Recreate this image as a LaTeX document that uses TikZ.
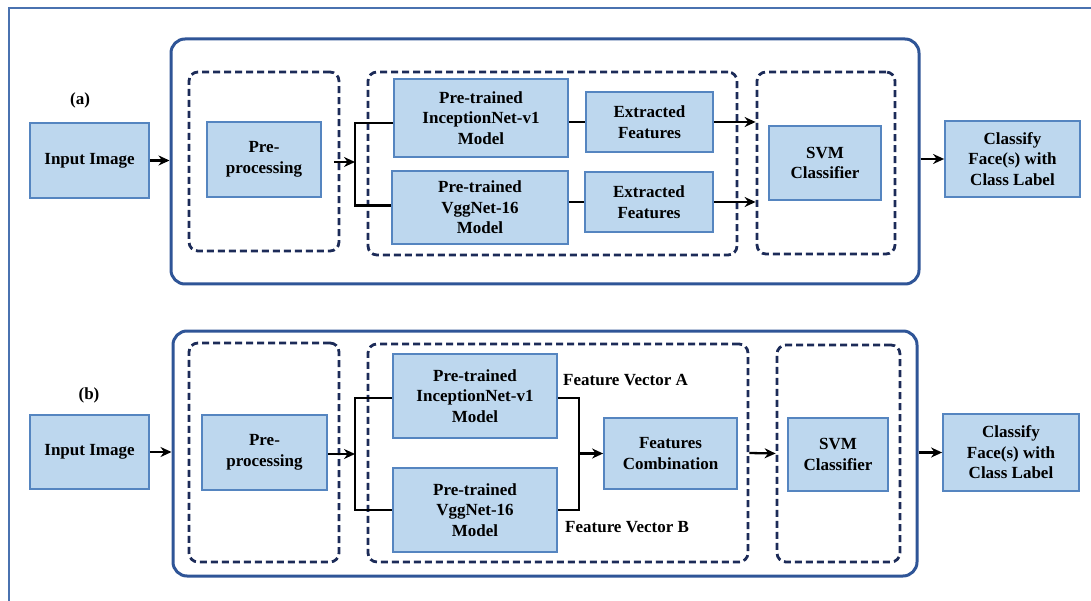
\documentclass[tikz,border=0pt]{standalone}
\usepackage{fontspec}
\setmainfont{Liberation Serif}
\usetikzlibrary{arrows.meta}

\definecolor{boxfill}{HTML}{BDD7EE}
\definecolor{boxline}{HTML}{5585C0}
\definecolor{panelline}{HTML}{2F5597}
\definecolor{groupline}{HTML}{1C2B58}
\definecolor{frameline}{HTML}{4A72B0}

\begin{document}
\begin{tikzpicture}[x=1pt,y=-1pt,>={Stealth[length=11pt,width=10pt]},
  every node/.style={font=\bfseries\fontsize{17}{20.5}\selectfont,inner sep=0pt},
  boxsize/.style 2 args={minimum width=#1pt,minimum height=#2pt},
  block/.style={draw=boxline,fill=boxfill,line width=1.8pt,align=center},
  group/.style={draw=groupline,line width=2.8pt,dash pattern=on 7pt off 4pt,rounded corners=9pt},
  panel/.style={draw=panelline,line width=3pt,rounded corners=14pt},
  link/.style={line width=2.3pt}]
        \useasboundingbox (0,0) rectangle (1091,601);
        \draw[frameline,line width=2.6pt] (1100,8) -| (9,610);

        % (a) separate features
        \node[panel,boxsize={748}{245}]  (panelA) at (545,161.5) {};
        \node[group,boxsize={150}{179}]  (preGA)  at (264,161.5) {};
        \node[group,boxsize={369}{183}]  (midGA)  at (552.5,163.5) {};
        \node[group,boxsize={138}{182}]  (svmGA)  at (826,163) {};

        \node                            (labA)   at (80,100)     {(a)};
        \node[block,boxsize={119}{75}]   (inA)    at (89.5,160.5) {Input Image};
        \node[block,boxsize={114}{75}]   (preA)   at (264,159.5)  {Pre-\\processing};
        \node[block,boxsize={174}{78}]   (incA)   at (481,118)    {Pre-trained\\InceptionNet-v1\\Model};
        \node[block,boxsize={176}{73}]   (vggA)   at (480,207.5)  {Pre-trained\\VggNet-16\\Model};
        \node[block,boxsize={127}{60}]   (ext1)   at (649.5,122)  {Extracted\\Features};
        \node[block,boxsize={128}{60}]   (ext2)   at (649,202)    {Extracted\\Features};
        \node[block,boxsize={112}{74}]   (svmA)   at (825,163)    {SVM\\Classifier};
        \node[block,boxsize={135}{76}]   (clsA)   at (1012.5,159) {Classify\\Face(s) with\\Class Label};

        \coordinate (splitA) at (355,162);
        \draw[link,->] (inA.east) -- (inA.east -| panelA.west);
        \draw[link,->,shorten <=12pt] (preA.east |- splitA) -- (splitA);
        \draw[link] ([yshift=-5pt]incA.west) -| (splitA) |- ([yshift=2pt]vggA.west);
        \draw[link] (ext1.west -| incA.east) -- (ext1.west);
        \draw[link] (ext2.west -| vggA.east) -- (ext2.west);
        \draw[link,->] (ext1.east) -- (ext1.east -| svmGA.west);
        \draw[link,->] (ext2.east) -- (ext2.east -| svmGA.west);
        \draw[link,->] (clsA.west -| panelA.east) -- (clsA.west);

        % (b) combined features
        \node[panel,boxsize={744}{245}]  (panelB) at (545,453.5) {};
        \node[group,boxsize={150}{219}]  (preGB)  at (264,452.5) {};
        \node[group,boxsize={380}{218}]  (midGB)  at (558,453)   {};
        \node[group,boxsize={123}{217}]  (svmGB)  at (838.5,453.5) {};

        \node                            (labB)   at (89,395)     {(b)};
        \node[block,boxsize={119}{74}]   (inB)    at (89.5,452)   {Input Image};
        \node[block,boxsize={125}{75}]   (preB)   at (264.5,452.5) {Pre-\\processing};
        \node[block,boxsize={164}{84}]   (incB)   at (475,396)    {Pre-trained\\InceptionNet-v1\\Model};
        \node[block,boxsize={164}{84}]   (vggB)   at (475,510)    {Pre-trained\\VggNet-16\\Model};
        \node[block,boxsize={133}{71}]   (comb)   at (670.5,453.5) {Features\\Combination};
        \node[block,boxsize={100}{73}]   (svmB)   at (838,454.5)  {SVM\\Classifier};
        \node[block,boxsize={136}{77}]   (clsB)   at (1011,452.5) {Classify\\Face(s) with\\Class Label};
        \node[anchor=west]               (fva)    at (563,380)    {Feature Vector A};
        \node[anchor=west]               (fvb)    at (565,527)    {Feature Vector B};

        \coordinate (splitB) at (355,454);
        \coordinate (joinB)  at (579,453.5);
        \draw[link,->] (inB.east) -- (inB.east -| panelB.west);
        \draw[link,->] (preB.east |- splitB) -- (splitB);
        \draw[link] ([yshift=-2pt]incB.west) -| (splitB) |- (vggB.west);
        \draw[link] ([yshift=-2pt]incB.east) -| (joinB) |- (vggB.east);
        \draw[link,->] (joinB) -- (comb.west);
        \draw[link,->] (midGB.east) -- (svmGB.west);
        \draw[link,->] (clsB.west -| panelB.east) -- (clsB.west);
\end{tikzpicture}
\end{document}
